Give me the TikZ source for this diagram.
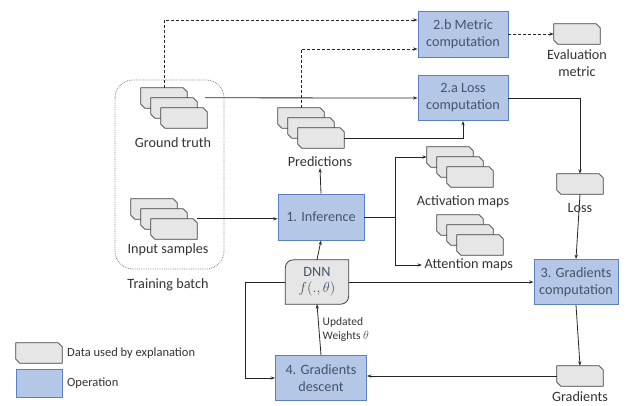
\documentclass[tikz,border=0pt]{standalone}
\usepackage{fontspec}
\setmainfont{Carlito}
\usepackage{xcolor}
\usetikzlibrary{arrows.meta,positioning}
\definecolor{opfill}{HTML}{B4C7E7}
\definecolor{opline}{HTML}{5B7FC7}
\definecolor{optext}{HTML}{44546A}
\definecolor{cardfill}{HTML}{E7E6E6}
% data card: a named node with its chamfered outline drawn over it
\newcommand{\datacard}[2]{%
  \node[cardbox] (#1) at (#2) {};
  \filldraw[cardline] (#1.north west) -- ([xshift=-4pt]#1.north east) -- ([yshift=-4pt]#1.north east)
    -- (#1.south east) -- ([xshift=4pt]#1.south west) -- ([yshift=4pt]#1.south west) -- cycle;}
\begin{document}
\begin{tikzpicture}[x=1pt,y=1pt,>={Stealth[length=4.5pt,width=3.2pt]},
  op/.style={rectangle,draw=opline,fill=opfill,line width=0.9pt,text=optext,align=center,inner sep=0pt,font=\fontsize{14.2}{17}\selectfont},
  cardbox/.style={inner sep=0pt,minimum width=46pt,minimum height=20pt},
  cardline/.style={draw=black!75,fill=cardfill,line width=0.8pt,line join=round},
  lbl/.style={text=black!80,align=center,inner sep=1pt,font=\fontsize{14.2}{17}\selectfont},
  flow/.style={->,line width=0.8pt,black!85},
  dflow/.style={flow,dash pattern=on 3pt off 2pt}]
  \useasboundingbox (0,0) rectangle (627,405);
  % training batch
  \draw[gray,densely dotted,line width=0.8pt,rounded corners=18pt] (115,325) rectangle (224,136);
  \node[lbl] (batchl) at (168,120) {Training batch};
  % operations
  \node[op,minimum width=90pt,minimum height=46pt] (metric) at (463,371) {2.b Metric\\computation};
  \node[op,minimum width=90pt,minimum height=45pt] (loss) at (463,307) {2.a Loss\\computation};
  \node[op,minimum width=86pt,minimum height=46pt] (inf) at (321,188) {1. Inference};
  \node[op,minimum width=84pt,minimum height=45pt] (gradc) at (576,123) {3. Gradients\\computation};
  \node[op,minimum width=91pt,minimum height=45pt] (gdesc) at (321,27) {4. Gradients\\descent};
  % DNN
  \node[inner sep=0pt,minimum width=63pt,minimum height=44pt] (dnn) at (317,123) {};
  \filldraw[draw=black!75,fill=cardfill,line width=0.8pt] (dnn.north east) -- ([xshift=8pt]dnn.north west) arc[start angle=90,end angle=180,radius=8pt] -- (dnn.south west) -- ([xshift=-8pt]dnn.south east) arc[start angle=270,end angle=360,radius=8pt] -- cycle;
  \node[align=center,text=optext,inner sep=0pt,font=\fontsize{14.2}{17}\selectfont] (dnnt) at (dnn) {DNN\\[-1pt]$f(.,\theta)$};
  % ground truth
  \datacard{gt1}{164,307}
  \datacard{gt2}{174,297}
  \datacard{gt3}{184,287}
  \node[lbl] (gtl) at (173,262) {Ground truth};
  % input samples
  \datacard{in1}{154,196}
  \datacard{in2}{164,186}
  \datacard{in3}{174,176}
  \node[lbl] (inl) at (168,155) {Input samples};
  % predictions
  \datacard{pr1}{301,287}
  \datacard{pr2}{311,277}
  \datacard{pr3}{321,267}
  \node[lbl] (prl) at (320,243) {Predictions};
  % activation maps
  \datacard{ac1}{450,248}
  \datacard{ac2}{460,238}
  \datacard{ac3}{470,228}
  \node[lbl] (acl) at (463,203) {Activation maps};
  % attention maps
  \datacard{at1}{460,180}
  \datacard{at2}{470,170}
  \datacard{at3}{480,160}
  \node[lbl,anchor=west,inner sep=2.5pt] (atl) at (422,140) {Attention maps};
  % outputs
  \datacard{evm}{577,371}
  \node[lbl,below=4pt of evm,font=\fontsize{14.2}{17}\selectfont] (evml) {Evaluation\\metric};
  \datacard{lossd}{580,221}
  \node[lbl] (lossl) at (580,197) {Loss};
  \datacard{gradd}{580,29}
  \node[lbl,inner sep=0pt] (gradl) at (580,8.5) {Gradients};
  % legend
  \datacard{lgd}{39,52}
  \node[lbl,anchor=west,font=\fontsize{12.5}{15}\selectfont] (lgdl) at (66,52) {Data used by explanation};
  \node[op,minimum width=46pt,minimum height=28pt] (lgo) at (39,22) {};
  \node[lbl,anchor=west,font=\fontsize{12.5}{15}\selectfont] (lgol) at (66,22) {Operation};
  % connectors
  \draw[dflow] (gt1.north) |- ([yshift=14pt]metric.west);
  \draw[dflow] (pr1.north) |- ([yshift=-15pt]metric.west);
  \draw[dflow] (metric.east) -- (evm.west);
  \draw[flow] ([xshift=8pt]gt2.north east) -- (loss.west);
  \draw[flow] (pr3.east) -| (loss.south);
  \draw[flow] (loss.east) -| (lossd.north);
  \draw[flow] (lossd.south) -- (gradc.north);
  \draw[flow] (gradc.south) -- (gradd.north);
  \draw[flow] (gradd.west) -- (gradd.west -| gdesc.east);
  \draw[flow] (gdesc.north) -- (dnn.south)
    node[midway,right,align=left,text=black!80,font=\fontsize{11.5}{13.5}\selectfont] {Updated\\Weights \textcolor{optext}{$\theta$}};
  \draw[flow] (dnn.west) -- ++(-40pt,0) |- (gdesc.west);
  \draw[flow] (dnn.east) -- (gradc.west);
  \draw[flow] (dnn.north) -- (inf.south);
  \draw[flow] (inf.north) -- (prl.south);
  \draw[flow] (in3.north east) -- (in3.north east -| inf.west);
  \draw[flow] (inf.east) -- ++(31pt,0) |- (ac1.west);
  \draw[flow] (inf.east) -- ++(31pt,0) |- (atl.west);
\end{tikzpicture}
\end{document}
